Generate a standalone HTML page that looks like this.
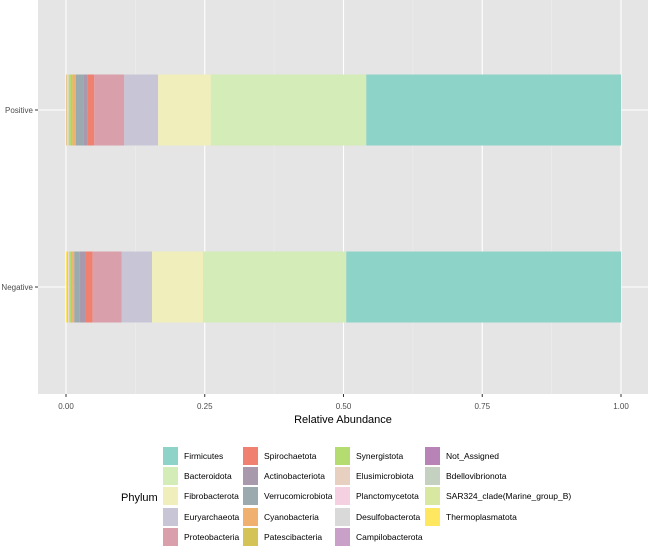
<!DOCTYPE html>
<html><head><meta charset="utf-8"><style>
body{margin:0;background:#fff;font-family:"Liberation Sans",sans-serif}
svg text{font-family:"Liberation Sans",sans-serif}
</style></head><body>
<svg id="chart" width="650" height="549">
<rect x="38" y="0" width="610" height="394" fill="#e5e5e5"/>
<g id="grid"></g><g id="bars"></g><g id="axes"></g><g id="legend"></g>
</svg>
<script>
const samples = ["Positive","Negative"];
const phyla = ["Firmicutes","Bacteroidota","Fibrobacterota","Euryarchaeota","Proteobacteria","Spirochaetota","Actinobacteriota","Verrucomicrobiota","Cyanobacteria","Patescibacteria","Synergistota","Elusimicrobiota","Planctomycetota","Desulfobacterota","Campilobacterota","Not_Assigned","Bdellovibrionota","SAR324_clade(Marine_group_B)","Thermoplasmatota"];
const colors = ["#8dd3c7","#d3ecb8","#f0efbb","#c8c6d6","#d9a0ac","#f08070","#a89aac","#9aaaae","#f0b070","#d4c458","#b4dc70","#e8d0c0","#f4d0e0","#d9d9d9","#c8a0c8","#b884b8","#c4d0c0","#d8e8a0","#ffe860"];
const positiveValues = [0.459,0.280,0.095,0.061,0.054,0.012,0.008,0.013,0.006,0.003,0.004,0.001,0.001,0.001,0.001,0.000,0.000,0.000,0.001];
const negativeValues = [0.495,0.258,0.092,0.055,0.052,0.013,0.010,0.010,0.004,0.002,0.003,0.001,0.001,0.001,0.001,0.000,0.000,0.000,0.002];
const xTicks = [0,0.25,0.5,0.75,1];
const xTickLabels = ["0.00","0.25","0.50","0.75","1.00"];
const NS="http://www.w3.org/2000/svg";
function mk(tag,attrs,parent){const e=document.createElementNS(NS,tag);for(const k in attrs)e.setAttribute(k,attrs[k]);parent.appendChild(e);return e;}
const x=v=>66+v*555;
const yCenter={Positive:110,Negative:287};
const barH=71;
const grid=document.getElementById('grid'),bars=document.getElementById('bars'),axes=document.getElementById('axes'),legend=document.getElementById('legend');
for(let i=0;i<xTicks.length-1;i++){const m=(xTicks[i]+xTicks[i+1])/2;const g=mk('line',{x1:x(m),x2:x(m),y1:0,y2:394,stroke:'#ededed','stroke-width':0.6},grid);}
xTicks.forEach((t,i)=>{const g=mk('line',{x1:x(t),x2:x(t),y1:0,y2:394,stroke:'#fff','stroke-width':1.1},grid);
const tk=mk('line',{x1:x(t),x2:x(t),y1:394,y2:397,stroke:'#333'},axes);
const tl=mk('text',{x:x(t),y:409,'font-size':8,fill:'#4d4d4d','text-anchor':'middle'},axes);tl.textContent=xTickLabels[i];});
samples.forEach(s=>{const cy=yCenter[s];const g=mk('line',{x1:38,x2:648,y1:cy,y2:cy,stroke:'#fff','stroke-width':1.1},grid);
const tk=mk('line',{x1:35,x2:38,y1:cy,y2:cy,stroke:'#333'},axes);
const tl=mk('text',{x:33,y:cy+3,'font-size':8,fill:'#4d4d4d','text-anchor':'end'},axes);tl.textContent=s;
const vals=s==='Positive'?positiveValues:negativeValues;
let cum=0;
for(let i=vals.length-1;i>=0;i--){const x0=x(cum);cum+=vals[i];const w=x(cum)-x0;if(w<=0)continue;
const r=mk('rect',{x:x0,y:cy-barH/2,width:w,height:barH,fill:colors[i]},bars);}});
const xt=mk('text',{x:343,y:423,'font-size':11,fill:'#000','text-anchor':'middle'},axes);xt.textContent='Relative Abundance';
const lt=mk('text',{x:121,y:501,'font-size':11,fill:'#000'},legend);lt.textContent='Phylum';
const colX=[163,243,335,425],rowY=[447,467,487,508,528];
phyla.forEach((p,i)=>{const c=Math.floor(i/5),r=i%5;
const k=mk('rect',{x:colX[c],y:rowY[r],width:15,height:18,fill:colors[i]},legend);
const t=mk('text',{x:colX[c]+21,y:rowY[r]+12,'font-size':8.5,fill:'#000'},legend);t.textContent=p;});
</script>
</body></html>
